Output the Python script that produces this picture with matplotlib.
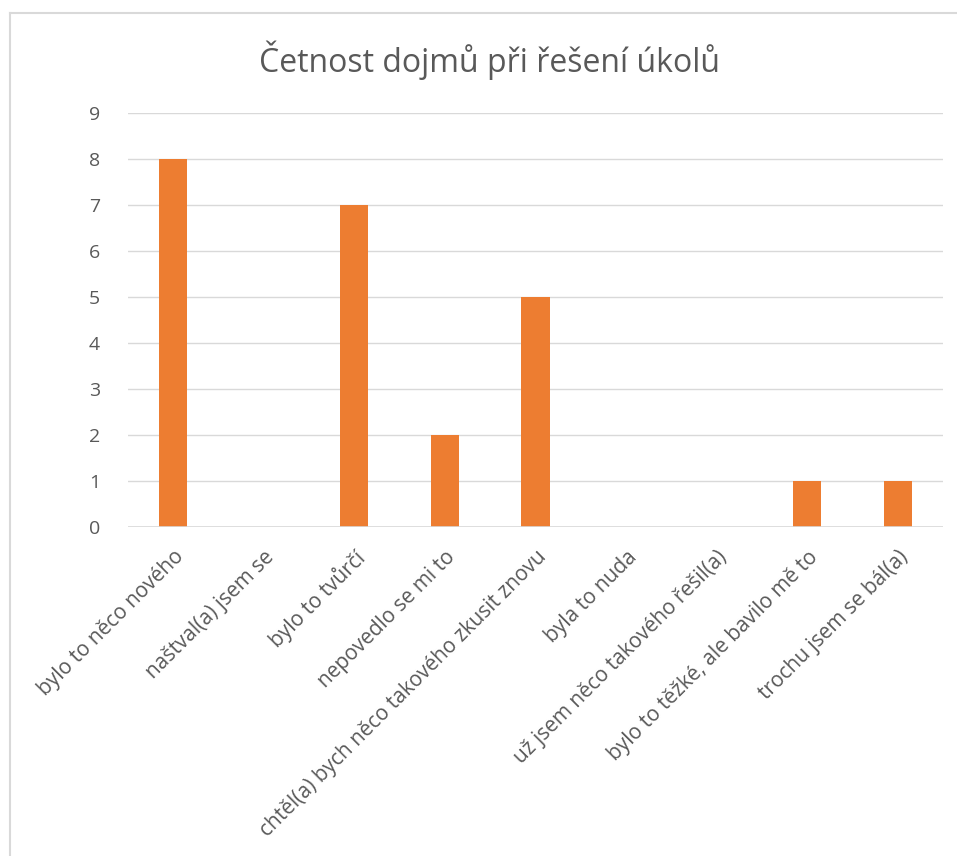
import matplotlib
matplotlib.use("Agg")
import matplotlib.pyplot as plt
from matplotlib.lines import Line2D

categories = [
    "bylo to něco nového",
    "naštval(a) jsem se",
    "bylo to tvůrčí",
    "nepovedlo se mi to",
    "chtěl(a) bych něco takového zkusit znovu",
    "byla to nuda",
    "už jsem něco takového řešil(a)",
    "bylo to těžké, ale bavilo mě to",
    "trochu jsem se bál(a)",
]
values = [8, 0, 7, 2, 5, 0, 0, 1, 1]
yticks = list(range(0, 10))
title = "Četnost dojmů při řešení úkolů"

plt.rcParams['font.family'] = ['Open Sans', 'DejaVu Sans']
W, H = 957, 856
fig = plt.figure(figsize=(W / 100, H / 100), dpi=100)

# outer border (chart area frame, cropped on right/bottom)
fig.add_artist(Line2D([10 / W, 1.0], [1 - 13 / H, 1 - 13 / H], color="#D9D9D9", lw=1.5,
                      transform=fig.transFigure))
fig.add_artist(Line2D([10 / W, 10 / W], [0, 1 - 13 / H], color="#D9D9D9", lw=1.5,
                      transform=fig.transFigure))

left, right = 128 / W, 943 / W
bottom, top = 1 - 527 / H, 1 - 113 / H
ax = fig.add_axes([left, bottom, right - left, top - bottom])

x = list(range(len(categories)))
ax.bar(x, values, width=0.31, color="#ED7D31", zorder=3)
ax.set_xlim(-0.5, len(categories) - 0.5)
ax.set_ylim(0, 9)
ax.set_yticks(yticks)
ax.set_yticklabels([str(v) for v in yticks], fontsize=14, color="#595959")
ax.yaxis.grid(True, color="#D9D9D9", lw=1, zorder=0)
ax.tick_params(axis='y', length=0, pad=20)
ax.tick_params(axis='x', length=0, pad=14)
for s in ax.spines.values():
    s.set_visible(False)
ax.axhline(0, color="#D9D9D9", lw=1.2, zorder=4)

ax.set_xticks(x)
ax.set_xticklabels(categories, rotation=45, ha='right', rotation_mode='anchor',
                   fontsize=15, color="#595959")

fig.text(490 / W, 1 - 60 / H, title, ha='center', va='center',
         fontsize=23, color="#595959")

fig.savefig("out.png", dpi=100)
